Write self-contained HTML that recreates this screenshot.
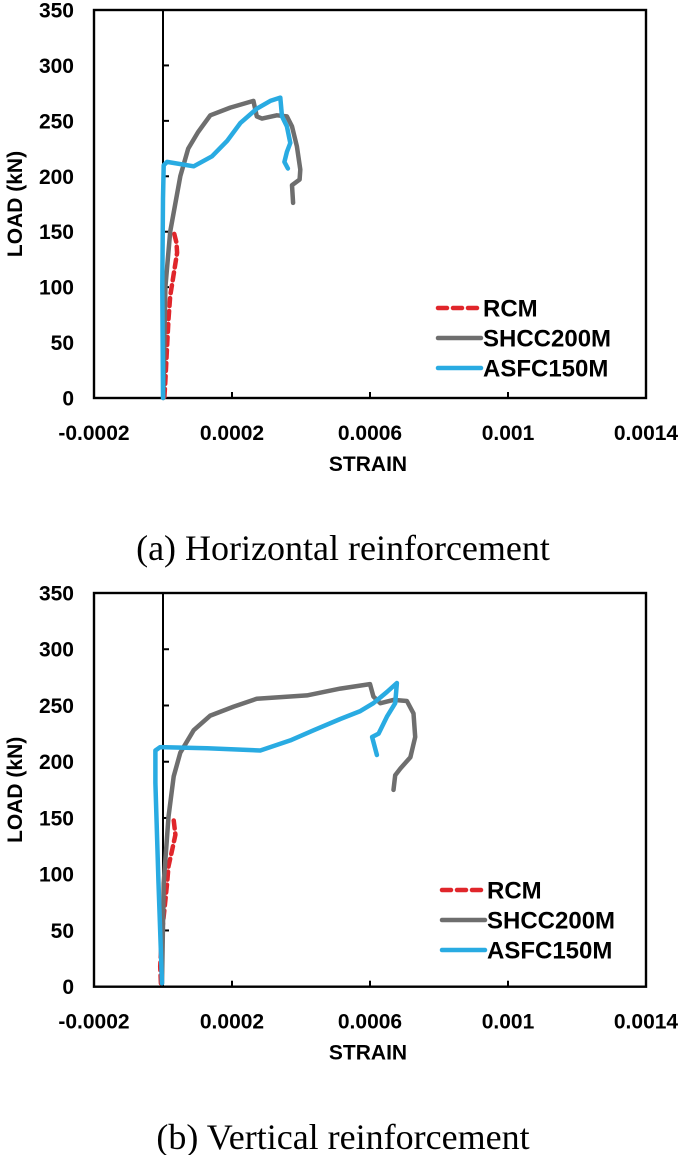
<!DOCTYPE html>
<html><head><meta charset="utf-8"><style>
body{margin:0;background:#fff;}
svg{display:block;font-family:"Liberation Sans",Arial,sans-serif;}
</style></head><body>
<svg id="fig" width="685" height="1155" viewBox="0 0 685 1155"></svg>
<script>
// x values are in microstrain, y values in kN
const xTickLabels=["-0.0002","0.0002","0.0006","0.001","0.0014"];
const xTickValues=[-200,200,600,1000,1400];
const yTickValues=[0,50,100,150,200,250,300,350];
const seriesNames=["RCM","SHCC200M","ASFC150M"];
// (a) Horizontal
const aRcmX=[4,7,12,16,21,41,39,31];
const aRcmY=[1,16,47,71,92,131,140,150];
const aShccX=[1,7,21,50,73,102,137,195,262,272,287,330,359,374,388,398,396,374,377];
const aShccY=[0,100,150,200,225,240,255,262,268,254,252,255,254,245,227,206,197,192,176];
const aAsfcX=[0,-2,0,2,12,89,142,186,224,272,311,340,345,359,369,359,352,362];
const aAsfcY=[0,100,180,210,213,209,218,232,248,261,268,271,254,245,230,222,213,207];
// (b) Vertical
const bRcmX=[-6,-8,-3,7,12,16,26,36,31];
const bRcmY=[3,18,48,77,92,107,121,135,148];
const bShccX=[-3,2,16,31,50,89,137,205,272,417,514,600,610,630,668,707,726,731,717,688,673,668];
const bShccY=[3,92,151,187,208,228,241,249,256,259,265,269,258,252,255,254,243,222,204,194,188,175];
const bAsfcX=[-3,-13,-22,-22,-8,128,282,369,437,514,572,610,649,678,673,649,625,606,620];
const bAsfcY=[3,92,181,210,213,212,210,219,228,238,245,252,262,270,252,240,225,222,206];

const colors={RCM:"#e0262b",SHCC200M:"#6e6e6e",ASFC150M:"#29abe2"};
const NS="http://www.w3.org/2000/svg";
const svg=document.getElementById('fig');
function mk(tag,attrs,parent,text){const e=document.createElementNS(NS,tag);for(const k in attrs)e.setAttribute(k,attrs[k]);if(text!==undefined)e.textContent=text;(parent||svg).appendChild(e);return e;}

function drawChart(id,top,bottom,series,legendY,legendX,caption,captionY){
  const L=94,R=646;
  const xs=v=>L+(v+200)/1600*(R-L);
  const ys=v=>bottom-v/350*(bottom-top);
  const g=mk('g',{});
  
  
  const frame=mk('rect',{x:L,y:top,width:R-L,height:bottom-top,fill:'none',stroke:'#000','stroke-width':2.4},g);
  
  
  const zx=xs(0);
  const za=mk('line',{x1:zx,y1:top,x2:zx,y2:bottom,stroke:'#000','stroke-width':2},g);
  
  
  yTickValues.forEach(v=>{
    const y=ys(v);
    if(v>0&&v<350){const t=mk('line',{x1:zx,y1:y,x2:zx+6,y2:y,stroke:'#000','stroke-width':2},g);
      
      }
    const lb=mk('text',{x:74,y:y+7.5,'text-anchor':'end','font-size':21,'font-weight':'bold'},g,String(v));
    
    
  });
  xTickValues.forEach((v,i)=>{
    const x=xs(v);
    if(i>0&&i<xTickValues.length-1){const t=mk('line',{x1:x,y1:bottom,x2:x,y2:bottom-6,stroke:'#000','stroke-width':2},g);
      
      }
    const lb=mk('text',{x:x,y:bottom+42,'text-anchor':'middle','font-size':21,'font-weight':'bold'},g,xTickLabels[i]);
    
    
  });
  const xt=mk('text',{x:368,y:bottom+73,'text-anchor':'middle','font-size':21,'font-weight':'bold'},g,'STRAIN');
  
  
  const cy=(top+bottom)/2;
  const yt=mk('text',{x:0,y:0,transform:`translate(22,${cy}) rotate(-90)`,'text-anchor':'middle','font-size':21,'font-weight':'bold'},g,'LOAD (kN)');
  
  
  series.forEach(s=>{
    const d=s.x.map((v,i)=>(i?'L':'M')+xs(v).toFixed(1)+' '+ys(s.y[i]).toFixed(1)).join(' ');
    const p=mk('path',{d:d,fill:'none',stroke:colors[s.name],'stroke-width':4.5,'stroke-linejoin':'round','stroke-linecap':'round','stroke-dasharray':s.name==='RCM'?'8 5':'none'},g);
    
    
  });
  seriesNames.forEach((n,i)=>{
    const y=legendY+i*30;
    const ln=mk('line',{x1:legendX,y1:y,x2:legendX+43,y2:y,stroke:colors[n],'stroke-width':4.5,'stroke-linecap':'round','stroke-dasharray':n==='RCM'?'9 6':'none'},g);
    
    
    const tx=mk('text',{x:legendX+45,y:y+8.5,'font-size':24,'font-weight':'bold'},g,n);
    
    
  });
  const cap=mk('text',{x:343,y:captionY,'text-anchor':'middle','font-size':36,'font-family':'"Liberation Serif",serif'},g,caption);
  
  
}
drawChart('horizontal',10,398,[
  {name:'RCM',x:aRcmX,y:aRcmY},{name:'SHCC200M',x:aShccX,y:aShccY},{name:'ASFC150M',x:aAsfcX,y:aAsfcY}],
  308,438,'(a) Horizontal reinforcement',560);
drawChart('vertical',593,986.7,[
  {name:'RCM',x:bRcmX,y:bRcmY},{name:'SHCC200M',x:bShccX,y:bShccY},{name:'ASFC150M',x:bAsfcX,y:bAsfcY}],
  890,442,'(b) Vertical reinforcement',1149);
</script>
</body></html>
